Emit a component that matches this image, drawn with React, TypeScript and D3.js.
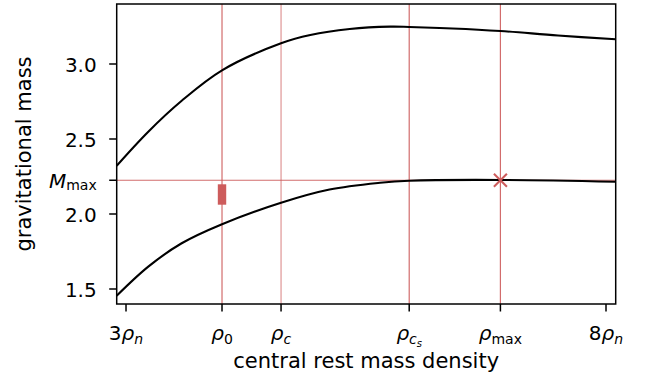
import React from "react";
import * as d3 from "d3";

// ---- data (density in units of rho_n, mass in solar masses) ----
const upperRho = [2.903, 3.232, 3.58, 4.0, 4.615, 4.92, 5.33, 5.75, 5.95, 6.4, 6.9, 7.5, 8.101];
const upperMass = [2.322, 2.549, 2.755, 2.958, 3.138, 3.193, 3.233, 3.249, 3.247, 3.237, 3.22, 3.19, 3.165];
const lowerRho = [2.903, 3.232, 3.58, 4.0, 4.615, 5.12, 5.646, 5.95, 6.9, 8.101];
const lowerMass = [1.455, 1.649, 1.805, 1.932, 2.075, 2.163, 2.208, 2.222, 2.227, 2.215];

const rho0 = 4.0;
const rhoC = 4.615;
const rhoCs = 5.95;
const rhoMax = 6.9;
const mMax = 2.225;
const barLow = 2.062;
const barHigh = 2.198;

const yTicks = [1.5, 2.0, 2.5, 3.0];
// x tick labels: parts [text, italic, subscript level]
type Part = [string, boolean, number];
const xTickValues = [3, rho0, rhoC, rhoCs, rhoMax, 8];
const xTickLabels: Part[][] = [
  [["3", false, 0], ["ρ", true, 0], ["n", true, 1]],
  [["ρ", true, 0], ["0", false, 1]],
  [["ρ", true, 0], ["c", true, 1]],
  [["ρ", true, 0], ["c", true, 1], ["s", true, 2]],
  [["ρ", true, 0], ["max", false, 1]],
  [["8", false, 0], ["ρ", true, 0], ["n", true, 1]],
];

const W = 645, H = 381;
const L = 116.7, R = 615.7, T = 4, B = 304;
const FONT = "'DejaVu Sans', sans-serif";
const RED = "#cd5c5c";

export default function App() {
  const x = d3.scaleLinear().domain([2.903, 8.101]).range([L, R]);
  const y = d3.scaleLinear().domain([1.4, 3.4]).range([B, T]);
  const line = d3
    .line<[number, number]>()
    .x((d) => x(d[0]))
    .y((d) => y(d[1]))
    .curve(d3.curveCatmullRom.alpha(0.5));
  const up = line(upperRho.map((r, i) => [r, upperMass[i]]) as [number, number][]) || "";
  const lo = line(lowerRho.map((r, i) => [r, lowerMass[i]]) as [number, number][]) || "";

  const vlines = [
    { v: rho0, op: 0.9 },
    { v: rhoC, op: 0.65 },
    { v: rhoCs, op: 0.9 },
    { v: rhoMax, op: 0.9 },
  ];
  const fs = 20;
  const lfs = 21;
  const cx = x(rhoMax), cy = y(mMax);
  const cs = 6.5;

  return (
    <svg width={W} height={H} style={{ position: "absolute", left: 0, top: 0, background: "#fff" }} fontFamily={FONT}>
      <defs>
        <clipPath id="plot">
          <rect x={L} y={T} width={R - L} height={B - T} />
        </clipPath>
      </defs>
      <rect x={0} y={0} width={W} height={H} fill="#fff" />
      <g clipPath="url(#plot)">
        {vlines.map((d, i) => (
          <line key={i} x1={x(d.v)} x2={x(d.v)} y1={T} y2={B} stroke={RED} strokeWidth={1.2} strokeOpacity={d.op} />
        ))}
        <line x1={L} x2={R} y1={y(mMax)} y2={y(mMax)} stroke={RED} strokeWidth={1.2} strokeOpacity={0.9} />
        <path d={up} fill="none" stroke="#000" strokeWidth={2.1} />
        <path d={lo} fill="none" stroke="#000" strokeWidth={2.1} />
        <rect x={x(rho0) - 4.2} y={y(barHigh)} width={8.4} height={y(barLow) - y(barHigh)} fill={RED} />
        <line x1={cx - cs} y1={cy - cs} x2={cx + cs} y2={cy + cs} stroke={RED} strokeWidth={2} />
        <line x1={cx - cs} y1={cy + cs} x2={cx + cs} y2={cy - cs} stroke={RED} strokeWidth={2} />
      </g>
      <rect x={L} y={T} width={R - L} height={B - T} fill="none" stroke="#000" strokeWidth={1.5} />
      {/* y ticks */}
      {yTicks.map((t) => (
        <g key={t}>
          <line x1={L - 7.5} x2={L} y1={y(t)} y2={y(t)} stroke="#000" strokeWidth={1.5} />
          <text x={L - 20} y={y(t) + 7.6} textAnchor="end" fontSize={fs}>
            {t.toFixed(1)}
          </text>
        </g>
      ))}
      <line x1={L - 7.5} x2={L} y1={y(mMax)} y2={y(mMax)} stroke="#000" strokeWidth={1.5} />
      <text x={L - 20} y={y(mMax) + 8} textAnchor="end" fontSize={fs}>
        <tspan fontStyle="italic">M</tspan>
        <tspan fontSize={14} dy={1.5}>max</tspan>
      </text>
      {/* x ticks */}
      {xTickValues.map((v, i) => (
        <g key={i}>
          <line x1={x(v)} x2={x(v)} y1={B} y2={B + 7.5} stroke="#000" strokeWidth={1.5} />
          <text x={x(v)} y={339.5} textAnchor="middle" fontSize={fs}>
            {xTickLabels[i].map((p, j) => {
              const prev = j > 0 ? xTickLabels[i][j - 1][2] : 0;
              const lvl = p[2];
              const off = (l: number) => (l === 0 ? 0 : l === 1 ? 4 : 7);
              const dy = off(lvl) - off(prev);
              const size = lvl === 0 ? fs : lvl === 1 ? 14 : 10;
              return (
                <tspan key={j} fontStyle={p[1] ? "italic" : "normal"} fontSize={size} dy={dy}>
                  {p[0]}
                </tspan>
              );
            })}
          </text>
        </g>
      ))}
      <text x={(L + R) / 2} y={368} textAnchor="middle" fontSize={lfs}>
        central rest mass density
      </text>
      <text transform={`translate(31,${(T + B) / 2}) rotate(-90)`} textAnchor="middle" fontSize={lfs}>
        gravitational mass
      </text>
    </svg>
  );
}
